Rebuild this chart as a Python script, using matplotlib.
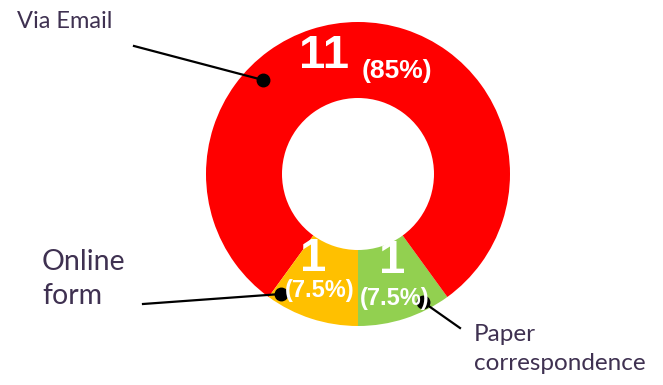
import matplotlib.pyplot as plt

# ring: paper, email, online (counter-clockwise from bottom)
channels = ["Paper\ncorrespondence", "Via Email", "Online\nform"]
counts = [1, 11, 1]
pct_labels = ["(7.5%)", "(85%)", "(7.5%)"]
wedge_share = [10, 80, 10]
colours = ["#92D050", "#FF0000", "#FFC000"]

W, H = 663, 385
fig = plt.figure(figsize=(W / 100, H / 100), dpi=100)
ax = fig.add_axes([0, 0, 1, 1])

cx, cy, R = 358, 174, 152
# y axis points down, so go clockwise to end up counter-clockwise on screen
ax.pie(wedge_share, colors=colours, startangle=90, counterclock=False,
       center=(cx, cy), radius=R, wedgeprops=dict(width=R * 0.5, linewidth=0),
       frame=True)
ax.set_xlim(0, W)
ax.set_ylim(H, 0)
ax.set_aspect("equal")
ax.axis("off")

lab_col = "#3F3151"
bold = dict(color="white", fontweight="bold", family="Liberation Sans",
            ha="center", va="center", zorder=5)

# leader lines with dots
leaders = [((423, 302), (460, 328)), ((263, 80), (134, 46)), ((281, 294), (143, 304))]
for (p0, p1) in leaders:
    ax.plot([p0[0], p1[0]], [p0[1], p1[1]], color="black", lw=1.6, zorder=3)
    ax.plot(p0[0], p0[1], "o", color="black", ms=9, zorder=4)

# counts and percents
ax.text(324, 56, str(counts[1]), fontsize=34, **bold)
ax.text(397, 71, pct_labels[1], fontsize=19, **bold)
ax.text(313, 259, str(counts[2]), fontsize=34, **bold)
ax.text(320, 291, pct_labels[2], fontsize=17, **bold)
ax.text(392, 261, str(counts[0]), fontsize=34, **bold)
ax.text(395, 298, pct_labels[0], fontsize=17, **bold)

# category labels
ax.text(17, 22, channels[1], fontsize=17, color=lab_col, family="Lato",
        ha="left", va="center")
ax.text(42, 279, channels[2], fontsize=20.5, color=lab_col, family="Lato",
        ha="left", va="center", linespacing=1.35)
ax.text(474, 349, channels[0], fontsize=17.5, color=lab_col, family="Lato",
        ha="left", va="center", linespacing=1.45)

fig.savefig("out.png", dpi=100)
